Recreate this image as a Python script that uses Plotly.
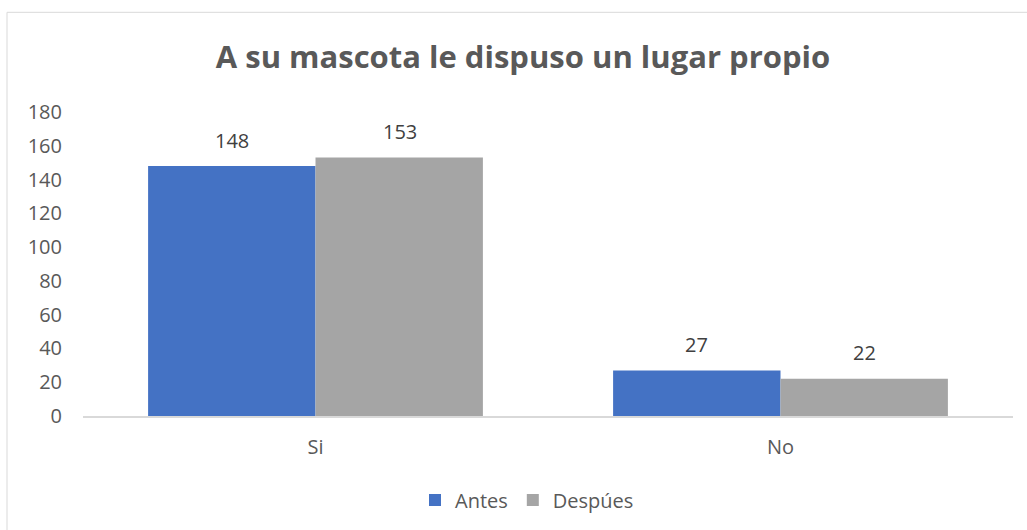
import plotly.graph_objects as go

categorias = ["Si", "No"]
antes = [148, 27]
despues = [153, 22]
ticks_y = [0, 20, 40, 60, 80, 100, 120, 140, 160, 180]

fuente = "Open Sans"
gris_texto = "#595959"

fig = go.Figure()
fig.add_trace(go.Bar(x=categorias, y=antes, name="Antes", marker_color="#4472C4",
                     marker_line_width=0))
fig.add_trace(go.Bar(x=categorias, y=despues, name="Despúes", marker_color="#A5A5A5",
                     marker_line_width=0))

# etiquetas de datos encima de cada barra
for serie, desplaz in [(antes, -84), (despues, 84)]:
    for cat, val in zip(categorias, serie):
        fig.add_annotation(x=cat, y=val, text=str(val), showarrow=False,
                           xshift=desplaz, yshift=26, yanchor="middle",
                           font=dict(family=fuente, size=20, color="#404040"))

# marco del grafico (solo se ven los lados izquierdo y superior)
fig.add_shape(type="rect", xref="paper", yref="paper",
              x0=(7 - 83) / 930, x1=(1040 - 83) / 930,
              y0=(417 - 540) / 305, y1=(417 - 12) / 305,
              line=dict(color="#D9D9D9", width=1), layer="below")

fig.update_layout(
    width=1027, height=530,
    margin=dict(l=83, r=14, t=112, b=113),
    paper_bgcolor="white", plot_bgcolor="white",
    barmode="group", bargap=0.28, bargroupgap=0,
    title=dict(text="<b>A su mascota le dispuso un lugar propio</b>",
               x=523 / 1027, xanchor="center", y=1 - 57 / 530, yanchor="middle",
               font=dict(family=fuente, size=31, color=gris_texto)),
    font=dict(family=fuente, size=20, color=gris_texto),
    legend=dict(orientation="h", x=(527 - 83) / 930, xanchor="center",
                y=(417 - 500) / 305, yanchor="middle",
                font=dict(family=fuente, size=20, color=gris_texto),
                itemwidth=30, traceorder="normal"),
    xaxis=dict(showline=True, linecolor="#D9D9D9", linewidth=2, showgrid=False,
               ticks="", ticklabelstandoff=12, tickfont=dict(size=20)),
    yaxis=dict(range=[0, 180], tickvals=ticks_y, showgrid=False, zeroline=False,
               showline=False, ticks="", ticklabelstandoff=20, tickfont=dict(size=20)),
)

fig.write_html("out.html", config={"displayModeBar": False},
               post_script="document.body.style.margin='0';")
